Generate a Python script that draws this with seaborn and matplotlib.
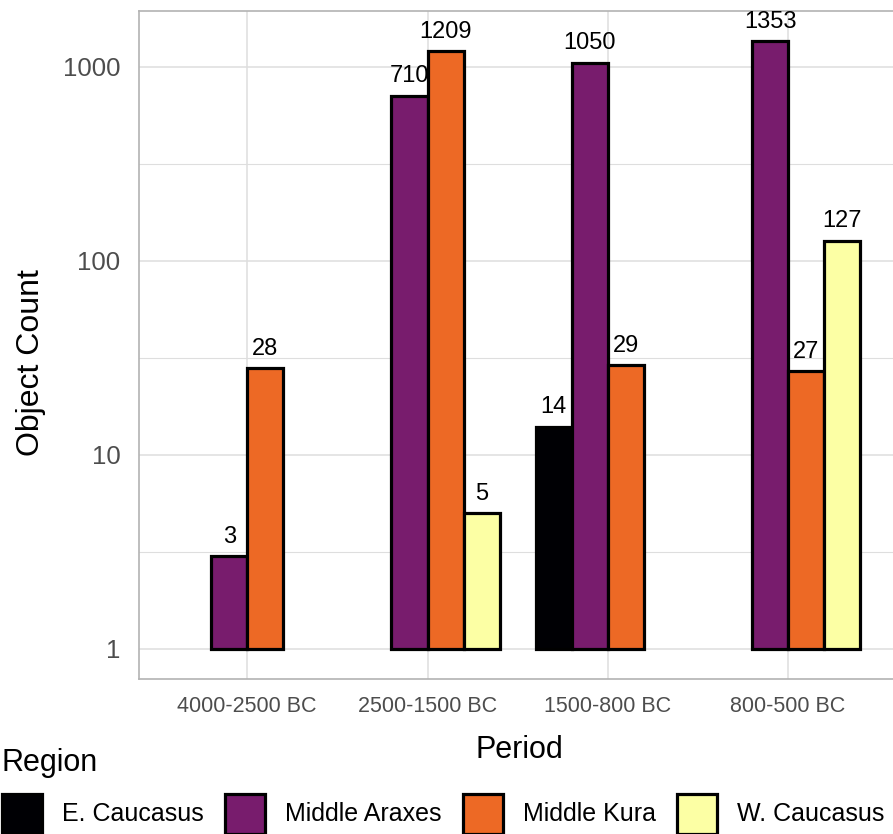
import numpy as np
import pandas as pd
import matplotlib
matplotlib.use("Agg")
import matplotlib.pyplot as plt
from matplotlib.patches import Patch
from matplotlib.ticker import FixedLocator, NullFormatter
import seaborn as sns

# data
periods = ["4000-2500 BC", "2500-1500 BC", "1500-800 BC", "800-500 BC"]
regions = ["E. Caucasus", "Middle Araxes", "Middle Kura", "W. Caucasus"]
region_colors = ["#000004", "#781C6D", "#ED6925", "#FCFFA4"]

period_col = ["4000-2500 BC", "4000-2500 BC",
              "2500-1500 BC", "2500-1500 BC", "2500-1500 BC",
              "1500-800 BC", "1500-800 BC", "1500-800 BC",
              "800-500 BC", "800-500 BC", "800-500 BC"]
region_col = ["Middle Araxes", "Middle Kura",
              "Middle Araxes", "Middle Kura", "W. Caucasus",
              "E. Caucasus", "Middle Araxes", "Middle Kura",
              "Middle Araxes", "Middle Kura", "W. Caucasus"]
counts = [3, 28,
          710, 1209, 5,
          14, 1050, 29,
          1353, 27, 127]

df = pd.DataFrame({"Period": period_col, "Region": region_col, "Count": counts})

sns.set_style("white")
plt.rcParams["font.family"] = ["Liberation Sans", "DejaVu Sans"]

fig = plt.figure(figsize=(8.93, 8.34), dpi=100)
ax = fig.add_axes([0.1557, 0.1859, 0.852, 0.8010])

sns.barplot(data=df, x="Period", y="Count", hue="Region",
            order=periods, hue_order=regions, palette=region_colors,
            width=0.8, edgecolor="black", linewidth=2.3,
            saturation=1, legend=False, ax=ax)

# ggplot style log axis: bars start at 1
ax.set_yscale("log")
for p in ax.patches:
    h = p.get_height()
    p.set_y(1)
    p.set_height(h - 1)

ax.set_ylim(0.70, 1944)
ax.set_xlim(-0.6, 3.62)

for cont in ax.containers:
    ax.bar_label(cont, labels=[f"{int(v)}" for v in cont.datavalues],
                 padding=6, fontsize=17, color="black")

ax.yaxis.set_major_locator(FixedLocator([1, 10, 100, 1000]))
ax.set_yticklabels(["1", "10", "100", "1000"])
ax.yaxis.set_minor_locator(FixedLocator([10 ** 0.5, 10 ** 1.5, 10 ** 2.5]))
ax.yaxis.set_minor_formatter(NullFormatter())

ax.set_axisbelow(True)
ax.grid(True, which="major", color="#DEDEDE", linewidth=1.1)
ax.grid(True, which="minor", axis="y", color="#DEDEDE", linewidth=0.8)
for s in ax.spines.values():
    s.set_color("#B3B3B3")
    s.set_linewidth(1.2)
# panel runs past the right edge of the picture
ax.spines["right"].set_visible(False)

ax.tick_params(axis="both", which="major", length=6.5, width=1.0,
               color="#B3B3B3", labelcolor="#4D4D4D")
ax.tick_params(axis="y", which="major", labelsize=18.5, pad=7)
ax.tick_params(axis="x", which="major", labelsize=15.5, pad=6)
ax.tick_params(axis="y", which="minor", length=0)

ax.set_xlabel("Period", fontsize=22, color="black")
ax.set_ylabel("Object Count", fontsize=23, color="black")
ax.xaxis.set_label_coords(0.5, -0.084)
ax.yaxis.set_label_coords(-0.122, 0.473)

handles = [Patch(facecolor=c, edgecolor="black", linewidth=2.3) for c in region_colors]
leg = fig.legend(handles, regions, title="Region", loc="upper left",
                 bbox_to_anchor=(0.002, 0.103), ncol=4, frameon=False,
                 title_fontsize=22, fontsize=18, alignment="left",
                 handlelength=1.6, handleheight=2.08, handletextpad=0.8,
                 columnspacing=0.85, borderpad=0, borderaxespad=0, labelspacing=0.62)
leg.get_title().set_color("black")
for t in leg.get_texts():
    t.set_color("black")

fig.savefig("out.png", dpi=100)
